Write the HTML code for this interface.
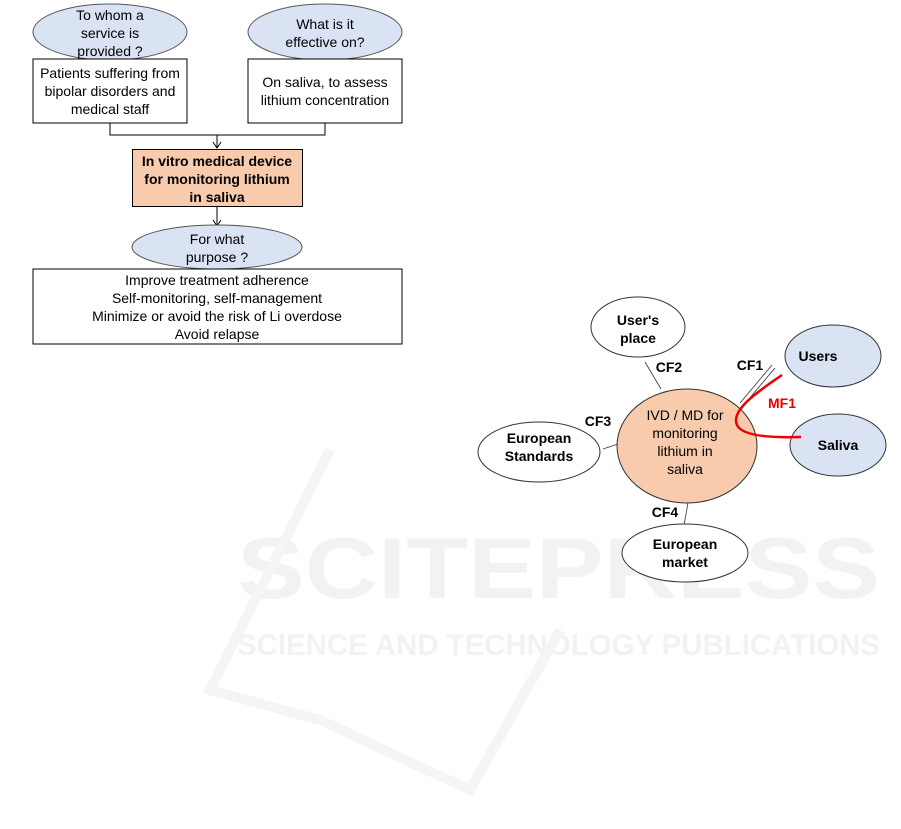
<!DOCTYPE html>
<html><head><meta charset="utf-8"><style>
html,body{margin:0;padding:0;background:#fff;}
svg{display:block;}
text{font-family:"Liberation Sans",Arial,sans-serif;}
</style></head><body>
<svg width="901" height="829" viewBox="0 0 901 829" xmlns="http://www.w3.org/2000/svg">
<!-- watermark -->
<g fill="#f2f2f2" font-weight="bold">
<text x="237" y="598" font-size="86" textLength="643" lengthAdjust="spacingAndGlyphs">SCITEPRESS</text>
<text x="237" y="655" font-size="30" textLength="643" lengthAdjust="spacingAndGlyphs">SCIENCE AND TECHNOLOGY PUBLICATIONS</text>
</g>
<path d="M330 450 L210 690 L320 720 L470 790 L560 630" fill="none" stroke="#f5f5f5" stroke-width="10"/>

<!-- left flowchart -->
<g stroke="#000" stroke-width="1">
<ellipse cx="110" cy="32" rx="77" ry="28" fill="#dae3f3" stroke="#555"/>
<ellipse cx="325" cy="32" rx="77" ry="28" fill="#dae3f3" stroke="#555"/>
<rect x="33" y="59" width="154" height="64" fill="#fff"/>
<rect x="248" y="59" width="154" height="64" fill="#fff"/>
<polyline points="110,123 110,135 325,135 325,123" fill="none"/>
<line x1="217" y1="135" x2="217" y2="148"/>
<polyline points="213,142 217,148 221,142" fill="none"/>
<rect x="132.5" y="149.5" width="170" height="57" fill="#f8cbad"/>
<line x1="217" y1="207" x2="217" y2="226"/>
<polyline points="213,220 217,226 221,220" fill="none"/>
<ellipse cx="217" cy="247" rx="85" ry="22" fill="#dae3f3" stroke="#555"/>
<rect x="33" y="269" width="369" height="75" fill="#fff"/>
</g>
<g font-size="14" text-anchor="middle" fill="#000">
<text x="110" y="20">To whom  a</text>
<text x="110" y="38">service is</text>
<text x="110" y="56">provided ?</text>
<text x="325" y="29">What is it</text>
<text x="325" y="47">effective on?</text>
<text x="110" y="78">Patients suffering from</text>
<text x="110" y="96">bipolar disorders and</text>
<text x="110" y="114">medical staff</text>
<text x="325" y="87">On saliva, to assess</text>
<text x="325" y="105">lithium  concentration</text>
<g font-weight="bold"><text x="217" y="166">In vitro medical  device</text>
<text x="217" y="184">for monitoring  lithium</text>
<text x="217" y="202">in saliva</text></g>
<text x="217" y="244">For what</text>
<text x="217" y="262">purpose ?</text>
<text x="217" y="285">Improve  treatment  adherence</text>
<text x="217" y="303">Self-monitoring, self-management</text>
<text x="217" y="321">Minimize or avoid the risk of Li overdose</text>
<text x="217" y="339">Avoid relapse</text>
</g>

<!-- right diagram -->
<g stroke="#333" stroke-width="0.8" fill="none">
<line x1="645" y1="362" x2="661" y2="389"/>
<line x1="772" y1="365" x2="740" y2="403"/>
<line x1="775" y1="368" x2="743" y2="406"/>
<line x1="603" y1="449" x2="618" y2="444"/>
<line x1="688" y1="503" x2="684" y2="525"/>
</g>
<ellipse cx="638" cy="327" rx="47" ry="30" fill="#fff" stroke="#333"/>
<ellipse cx="539" cy="452" rx="61" ry="30" fill="#fff" stroke="#333"/>
<ellipse cx="685" cy="553" rx="63" ry="29" fill="#fff" stroke="#333"/>
<ellipse cx="833" cy="356" rx="48" ry="31" fill="#dae3f3" stroke="#333"/>
<ellipse cx="838" cy="445" rx="48" ry="31" fill="#dae3f3" stroke="#333"/>
<ellipse cx="687" cy="446" rx="70" ry="57" fill="#f8cbad" stroke="#333"/>
<path d="M782 375 C760 390 730 410 737 425 C742 436 770 438 801 437" fill="none" stroke="#e00" stroke-width="2.5"/>
<g font-size="14" text-anchor="middle" font-weight="bold" fill="#000">
<text x="638" y="325">User's</text>
<text x="638" y="343">place</text>
<text x="818" y="361">Users</text>
<text x="838" y="450">Saliva</text>
<text x="539" y="443">European</text>
<text x="539" y="461">Standards</text>
<text x="685" y="549">European</text>
<text x="685" y="567">market</text>
<text x="669" y="372">CF2</text>
<text x="750" y="370">CF1</text>
<text x="598" y="426">CF3</text>
<text x="665" y="517">CF4</text>
<text x="782" y="408" fill="#e00">MF1</text>
</g>
<g font-size="14" text-anchor="middle" fill="#000">
<text x="685" y="420">IVD / MD for</text>
<text x="685" y="438">monitoring</text>
<text x="685" y="456">lithium  in</text>
<text x="685" y="474">saliva</text>
</g>
</svg>
</body></html>
